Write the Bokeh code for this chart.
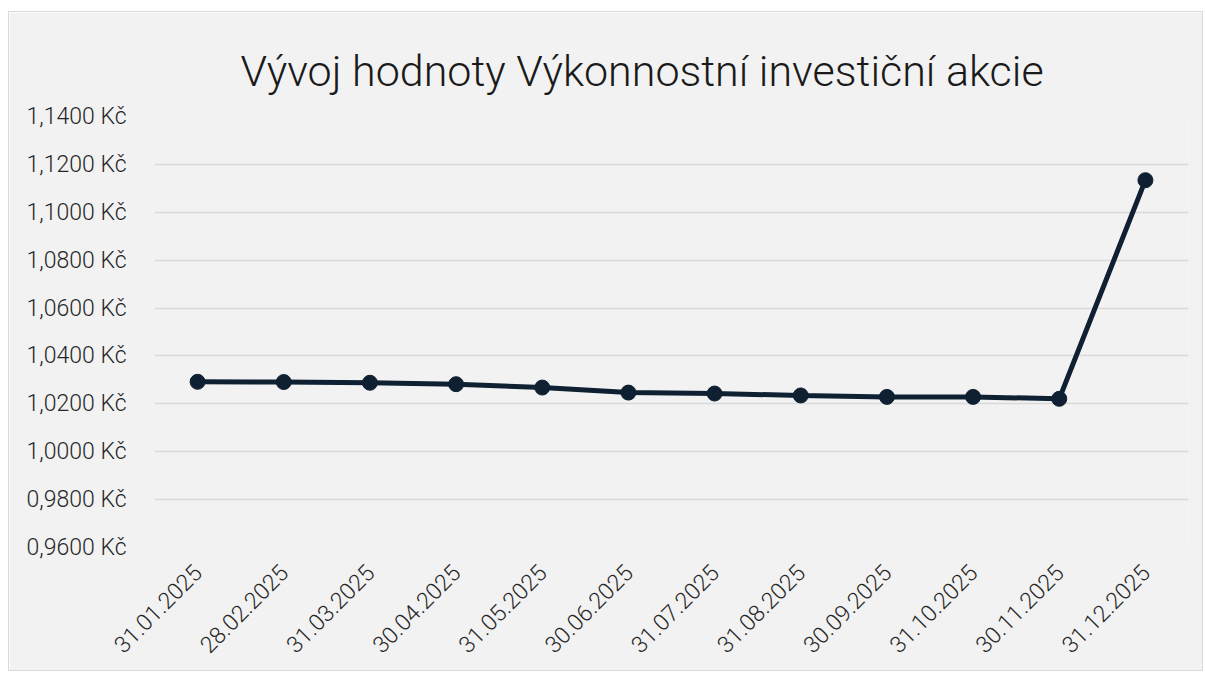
from bokeh.plotting import figure
from bokeh.models import Range1d, FactorRange, FixedTicker, Spacer
from bokeh.layouts import column, row
from bokeh.embed import file_html
from bokeh.resources import INLINE
import math

dates = ["31.01.2025", "28.02.2025", "31.03.2025", "30.04.2025", "31.05.2025", "30.06.2025",
         "31.07.2025", "31.08.2025", "30.09.2025", "31.10.2025", "30.11.2025", "31.12.2025"]
values = [1.0292, 1.0291, 1.0288, 1.0282, 1.0268, 1.0247,
          1.0243, 1.0235, 1.0229, 1.0229, 1.0221, 1.1134]
y_ticks = [0.96, 0.98, 1.00, 1.02, 1.04, 1.06, 1.08, 1.10, 1.12, 1.14]
y_labels = ["0,9600 Kč", "0,9800 Kč", "1,0000 Kč", "1,0200 Kč", "1,0400 Kč",
            "1,0600 Kč", "1,0800 Kč", "1,1000 Kč", "1,1200 Kč", "1,1400 Kč"]
title = "Vývoj hodnoty Výkonnostní investiční akcie"

BG = "#f2f2f2"
LINE = "#0e2031"

p = figure(width=1195, height=660, output_backend="svg", toolbar_location=None,
           x_range=FactorRange(factors=dates, range_padding=0),
           y_range=Range1d(0.96, 1.14),
           min_border_left=145, min_border_right=16, min_border_top=104, min_border_bottom=125)
p.styles = {"border": "1px solid #d9d9d9"}

p.title.text = title
p.title.align = "left"
p.title.offset = 86
p.title.text_font = "'Roboto Light', Roboto"
p.title.text_font_size = "43px"
p.title.text_font_style = "normal"
p.title.text_color = "#1a1a1a"
p.title.standoff = 42

p.background_fill_color = BG
p.border_fill_color = BG
p.outline_line_color = None

p.xgrid.grid_line_color = None
p.ygrid.grid_line_color = "#d9d9d9"
p.ygrid.grid_line_width = 1.5

p.yaxis.ticker = FixedTicker(ticks=y_ticks)
p.yaxis.major_label_overrides = {t: l for t, l in zip(y_ticks, y_labels)}
for ax in (p.xaxis, p.yaxis):
    ax.axis_line_color = None
    ax.major_tick_line_color = None
    ax.minor_tick_line_color = None
    ax.major_label_text_font = "'Roboto Light', Roboto"
    ax.major_label_text_font_size = "23px"
    ax.major_label_text_color = "#262626"
p.yaxis.major_label_standoff = 22
p.xaxis.major_label_orientation = math.pi / 4
p.xaxis.major_label_standoff = 15

p.line(dates, values, line_color=LINE, line_width=5)
p.scatter(dates, values, size=15, fill_color=LINE, line_color=LINE)

layout = column(Spacer(height=11), row(Spacer(width=8), p))
open("out.html", "w").write(file_html(layout, INLINE))
